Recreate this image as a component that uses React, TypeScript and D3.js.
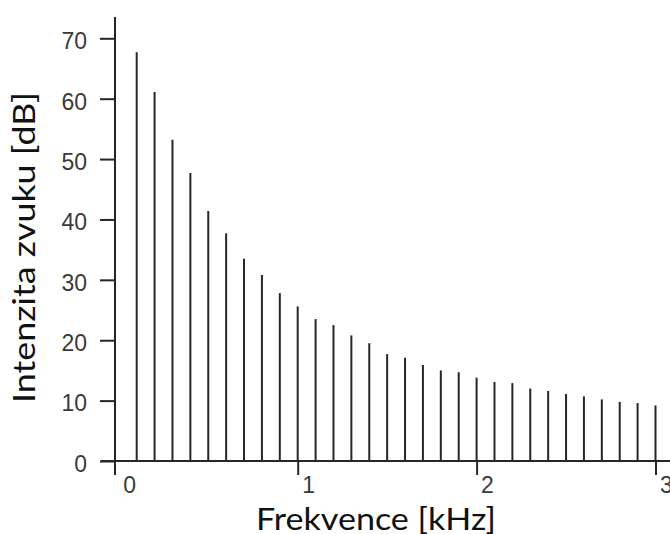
import React, { useEffect, useRef } from 'react';
import * as d3 from 'd3';

// harmonic frequencies in kHz and their levels in dB
const freqs = [0.1, 0.2, 0.3, 0.4, 0.5, 0.6, 0.7, 0.8, 0.9, 1.0,
  1.1, 1.2, 1.3, 1.4, 1.5, 1.6, 1.7, 1.8, 1.9, 2.0,
  2.1, 2.2, 2.3, 2.4, 2.5, 2.6, 2.7, 2.8, 2.9, 3.0];
const levels = [67.7, 61.1, 53.2, 47.7, 41.4, 37.7, 33.5, 30.8, 27.8, 25.6,
  23.5, 22.5, 20.8, 19.5, 17.7, 17.1, 15.9, 15.0, 14.7, 13.8,
  13.1, 12.9, 12.0, 11.6, 11.1, 10.7, 10.2, 9.8, 9.6, 9.2];
const yTicks = [0, 10, 20, 30, 40, 50, 60, 70];
const xTicks = [0, 1, 2, 3];
const xTitle = 'Frekvence [kHz]';
const yTitle = 'Intenzita zvuku [dB]';

const W = 670;
const H = 534;
const ink = '#262626';

export default function App() {
  const svgRef = useRef<SVGSVGElement>(null);

  useEffect(() => {
    const svg = d3.select(svgRef.current);
    svg.selectAll('*').remove();

    const x = d3.scaleLinear().domain([0, 3]).range([118.8, 655.5]);
    const y = d3.scaleLinear().domain([0, 70]).range([461, 38.3]);
    const axX = 115;
    const axY = y(0);

    // bars
    svg.append('g')
      .selectAll('line')
      .data(freqs)
      .enter()
      .append('line')
      .attr('x1', d => x(d))
      .attr('x2', d => x(d))
      .attr('y1', axY)
      .attr('y2', (d, i) => y(levels[i]))
      .attr('stroke', ink)
      .attr('stroke-width', 2);

    // y axis
    const gy = svg.append('g')
      .attr('transform', `translate(${axX},0)`)
      .call(d3.axisLeft(y).tickValues(yTicks).tickSize(15).tickPadding(13).tickSizeOuter(0));
    gy.select('.domain').remove();
    gy.selectAll('.tick line').attr('stroke', ink).attr('stroke-width', 2);
    gy.selectAll('.tick text')
      .attr('dy', '0.45em')
      .attr('fill', '#3a3a3a')
      .style('font-family', '"Liberation Sans", Arial, sans-serif')
      .style('font-size', '23px');

    // x axis
    const gx = svg.append('g')
      .attr('transform', `translate(0,${axY})`)
      .call(d3.axisBottom(x).tickValues(xTicks).tickFormat(d3.format('d')).tickSize(14).tickSizeOuter(0));
    gx.select('.domain').remove();
    gx.selectAll('.tick line')
      .attr('stroke', ink)
      .attr('stroke-width', 2)
      .attr('display', (d: any) => (d === 0 ? 'none' : null));
    gx.selectAll('.tick text')
      .attr('x', 4)
      .attr('y', 32)
      .attr('dy', 0)
      .attr('text-anchor', 'start')
      .attr('fill', '#3a3a3a')
      .style('font-family', '"Liberation Sans", Arial, sans-serif')
      .style('font-size', '23px');

    // axis lines
    svg.append('line')
      .attr('x1', axX).attr('x2', axX)
      .attr('y1', 17).attr('y2', 475)
      .attr('stroke', ink).attr('stroke-width', 2);
    svg.append('line')
      .attr('x1', 101).attr('x2', W)
      .attr('y1', axY).attr('y2', axY)
      .attr('stroke', ink).attr('stroke-width', 2);

    // titles
    svg.append('text')
      .attr('x', 256)
      .attr('y', 530)
      .attr('textLength', 240)
      .attr('lengthAdjust', 'spacingAndGlyphs')
      .attr('fill', '#111')
      .style('font-family', 'Lato, "Open Sans", sans-serif')
      .style('font-size', '30px')
      .text(xTitle);

    svg.append('text')
      .attr('transform', 'translate(35,403) rotate(-90)')
      .attr('textLength', 311)
      .attr('lengthAdjust', 'spacingAndGlyphs')
      .attr('fill', '#111')
      .style('font-family', 'Lato, "Open Sans", sans-serif')
      .style('font-size', '30px')
      .text(yTitle);
  }, []);

  return (
    <svg
      ref={svgRef}
      width={W}
      height={H}
      style={{ position: 'absolute', left: 0, top: 0, background: '#fff' }}
    />
  );
}
